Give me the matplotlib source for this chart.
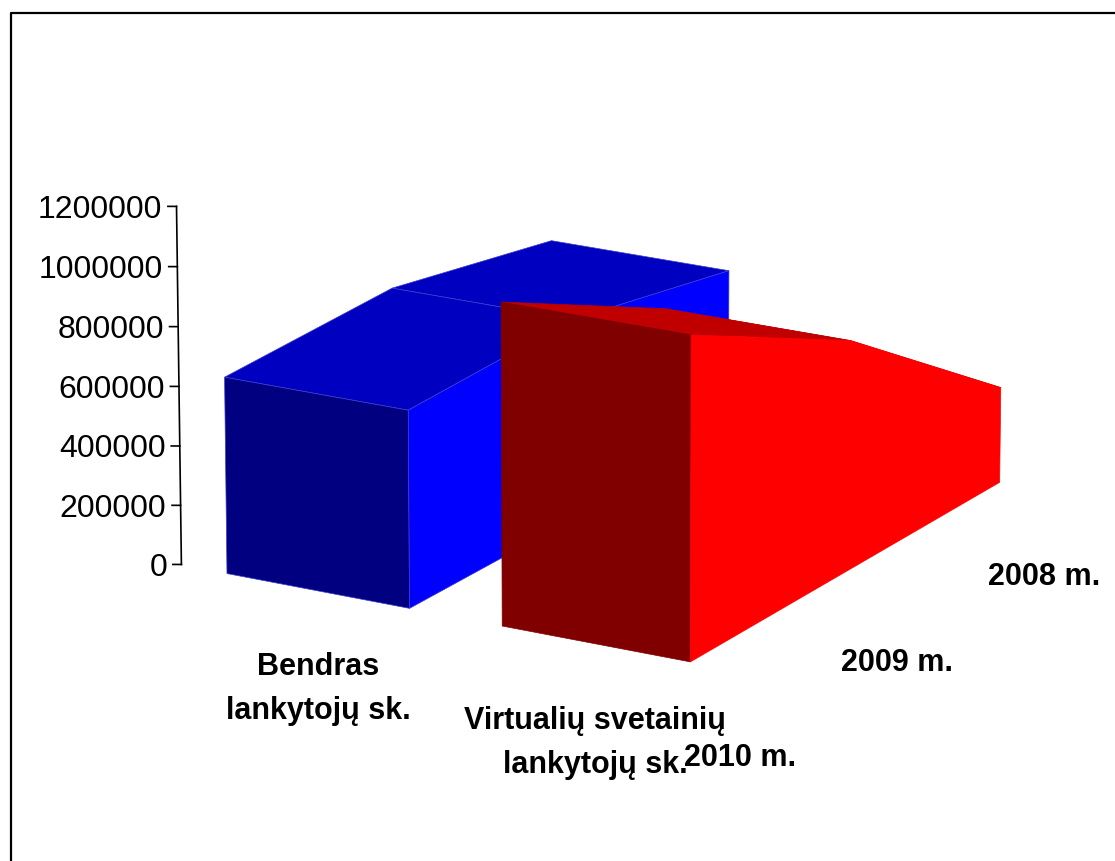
import matplotlib
matplotlib.use("Agg")
import matplotlib.pyplot as plt
from matplotlib.lines import Line2D
from mpl_toolkits.mplot3d import proj3d
from mpl_toolkits.mplot3d.art3d import Poly3DCollection

plt.rcParams['font.family'] = ['Liberation Sans', 'DejaVu Sans']

W, H = 1115, 862

years = ["2010 m.", "2009 m.", "2008 m."]
categories = ["Bendras\nlankytojų sk.", "Virtualių svetainių\nlankytojų sk."]
bendras = [660000, 680000, 570000]
virtualiu = [1070000, 770000, 327000]
yticks = [0, 200000, 400000, 600000, 800000, 1000000, 1200000]

fig = plt.figure(figsize=(W / 100, H / 100), dpi=100)
S = 945
ax = fig.add_axes([132.7 / W, 25.2 / H, S / W, S / H], projection='3d', computed_zorder=False)
ax.set_xlim(-0.25, 2.75)
ax.set_ylim(0, 2)
ax.set_zlim(0, 1200000)
ax.set_box_aspect((633, 636, 371))
ax.set_proj_type('persp', focal_length=2)
ax.view_init(elev=17.6, azim=-60)
ax.set_axis_off()
ax.patch.set_alpha(0)

order = [0]


def face(verts, color, edge=None):
    order[0] += 1
    ax.add_collection3d(Poly3DCollection([verts], facecolor=color, edgecolor=edge or color,
                                         linewidth=0.5, zorder=order[0]))


def draw_area(x0, values, front, side, top, seam=None):
    x1 = x0 + 1
    n = len(values)
    for i in range(n - 2, -1, -1):
        face([(x0, i, values[i]), (x1, i, values[i]), (x1, i + 1, values[i + 1]), (x0, i + 1, values[i + 1])], top, seam)
    face([(x0, 0, 0), (x1, 0, 0), (x1, 0, values[0]), (x0, 0, values[0])], front, seam)
    wall = [(x1, 0, 0), (x1, n - 1, 0)] + [(x1, i, values[i]) for i in range(n - 1, -1, -1)]
    face(wall, side, seam)


draw_area(0, bendras, '#000080', '#0000ff', '#0000c0', '#3c3cd0')
draw_area(1.5, virtualiu, '#800000', '#ff0000', '#c00000')

# value axis, at the front left corner
M = ax.get_proj()
ax.plot([-0.25, -0.25], [0, 0], [0, 1200000], color='black', lw=1.2, zorder=50)
for t in yticks:
    ax.plot([-0.25, -0.285], [0, -0.013], [t, t], color='black', lw=1.2, zorder=50)
    px, py, _ = proj3d.proj_transform(-0.30, -0.03, t - 5000, M)
    ax.text2D(px, py, str(t), transform=ax.transData, ha='right', va='center', fontsize=23, color='black', zorder=51)

# category and depth labels
cat_pos = [(318, 689), (595, 743)]
for lab, (x, y) in zip(categories, cat_pos):
    fig.text(x / W, 1 - y / H, lab, ha='center', va='center', fontsize=22, fontweight='bold', linespacing=1.6)
year_pos = [(740, 758), (897, 663), (1044, 577)]
for lab, (x, y) in zip(years, year_pos):
    fig.text(x / W, 1 - y / H, lab, ha='center', va='center', fontsize=22, fontweight='bold')

# frame, only left and top show
fig.add_artist(Line2D([10.5 / W, 10.5 / W, 1], [0, 1 - 13.5 / H, 1 - 13.5 / H], color='black', lw=1.6))

fig.savefig("out.png", dpi=100)
